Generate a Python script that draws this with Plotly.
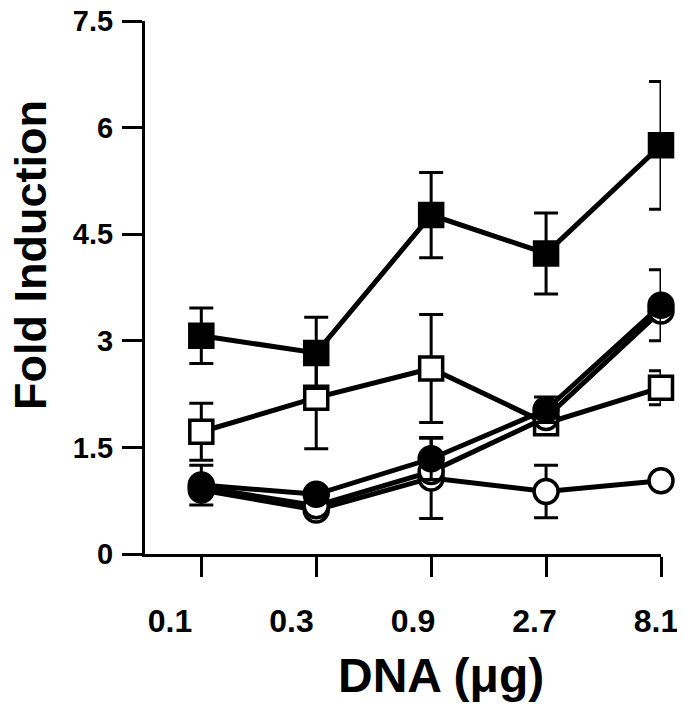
import plotly.graph_objects as go

# ---- data ----
dna_labels = ["0.1", "0.3", "0.9", "2.7", "8.1"]
x_idx = list(range(len(dna_labels)))

filled_sq = [3.07, 2.83, 4.77, 4.23, 5.75]
filled_sq_err = [0.39, 0.50, 0.60, 0.57, 0.90]

open_sq = [1.72, 2.20, 2.61, 1.84, 2.34]
open_sq_err = [0.40, 0.72, 0.76, 0.12, 0.24]

filled_ci = [0.97, 0.84, 1.34, 2.03, 3.50]
filled_ci_err = [0.28, 0.05, 0.29, 0.18, 0.50]

open_ci_a = [0.90, 0.62, 1.07, 0.88, 1.03]
open_ci_a_err = [0.05, 0.0, 0.57, 0.37, 0.0]

open_ci_b = [0.94, 0.68, 1.16, 1.92, 3.42]

y_tickvals = [0, 1.5, 3, 4.5, 6, 7.5]
y_ticktext = ["0", "1.5", "3", "4.5", "6", "7.5"]

FONT = "Liberation Sans, Arial, sans-serif"

fig = go.Figure()


def add_series(y, err, symbol, fill):
    kw = {}
    if err is not None:
        kw["error_y"] = dict(type="data", array=err, visible=True,
                             color="black", thickness=3, width=12)
    fig.add_trace(go.Scatter(
        x=x_idx, y=y, mode="lines+markers",
        line=dict(color="black", width=5),
        marker=dict(symbol=symbol, size=23 if "square" in symbol else 24,
                    color=fill, line=dict(color="black", width=3.5)),
        cliponaxis=False, showlegend=False, **kw))


add_series(open_ci_a, open_ci_a_err, "circle", "white")
add_series(open_sq, open_sq_err, "square", "white")
add_series(filled_sq, filled_sq_err, "square", "black")
add_series(open_ci_b, None, "circle", "white")
add_series(filled_ci, filled_ci_err, "circle", "black")

# invisible carrier trace for the label axis
fig.add_trace(go.Scatter(x=x_idx, y=[None] * len(x_idx), xaxis="x2",
                         mode="markers", showlegend=False, hoverinfo="skip"))

# page has an 8px body margin; plot area (figure coords): x 137..653, y 13..546
L, R, T, B = 137, 653, 13, 546
PW, PH = R - L, B - T

fig.update_layout(
    width=685, height=711,
    margin=dict(l=L, r=685 - R, t=T, b=711 - B, autoexpand=False),
    paper_bgcolor="white", plot_bgcolor="white",
    font=dict(family=FONT, color="black"),
    xaxis=dict(
        range=[-0.49, 4.0], tickvals=x_idx, showticklabels=False,
        showline=True, linecolor="black", linewidth=3,
        ticks="outside", ticklen=20, tickwidth=3, tickcolor="black",
        showgrid=False, zeroline=False, automargin=False,
    ),
    # label axis: the printed labels sit slightly left of the tick marks
    xaxis2=dict(
        overlaying="x", anchor="y", side="bottom",
        range=[-0.206, 4.041], tickvals=x_idx, ticktext=dna_labels,
        showline=False, ticks="", showgrid=False, zeroline=False,
        automargin=False, ticklabeloverflow="allow",
        tickfont=dict(size=32, family=FONT, weight="bold"),
        ticklabelstandoff=45,
    ),
    yaxis=dict(
        range=[0, 7.5001], tickvals=y_tickvals, ticktext=y_ticktext,
        showline=True, linecolor="black", linewidth=3,
        ticks="outside", ticklen=20, tickwidth=3, tickcolor="black",
        showgrid=False, zeroline=False, automargin=False,
        ticklabeloverflow="allow",
        tickfont=dict(size=29, family=FONT, weight="bold"),
        ticklabelstandoff=3,
    ),
    annotations=[
        dict(text="Fold Induction", xref="paper", yref="paper",
             x=(23 - L) / PW, y=(B - 247) / PH,
             xanchor="center", yanchor="middle", textangle=-90,
             showarrow=False, font=dict(size=45, family=FONT, weight="bold")),
        dict(text="DNA (μg)", xref="paper", yref="paper",
             x=(433 - L) / PW, y=-(667 - B) / PH,
             xanchor="center", yanchor="middle",
             showarrow=False, font=dict(size=48, family=FONT, weight="bold")),
    ],
)

fig.write_html("out.html")
